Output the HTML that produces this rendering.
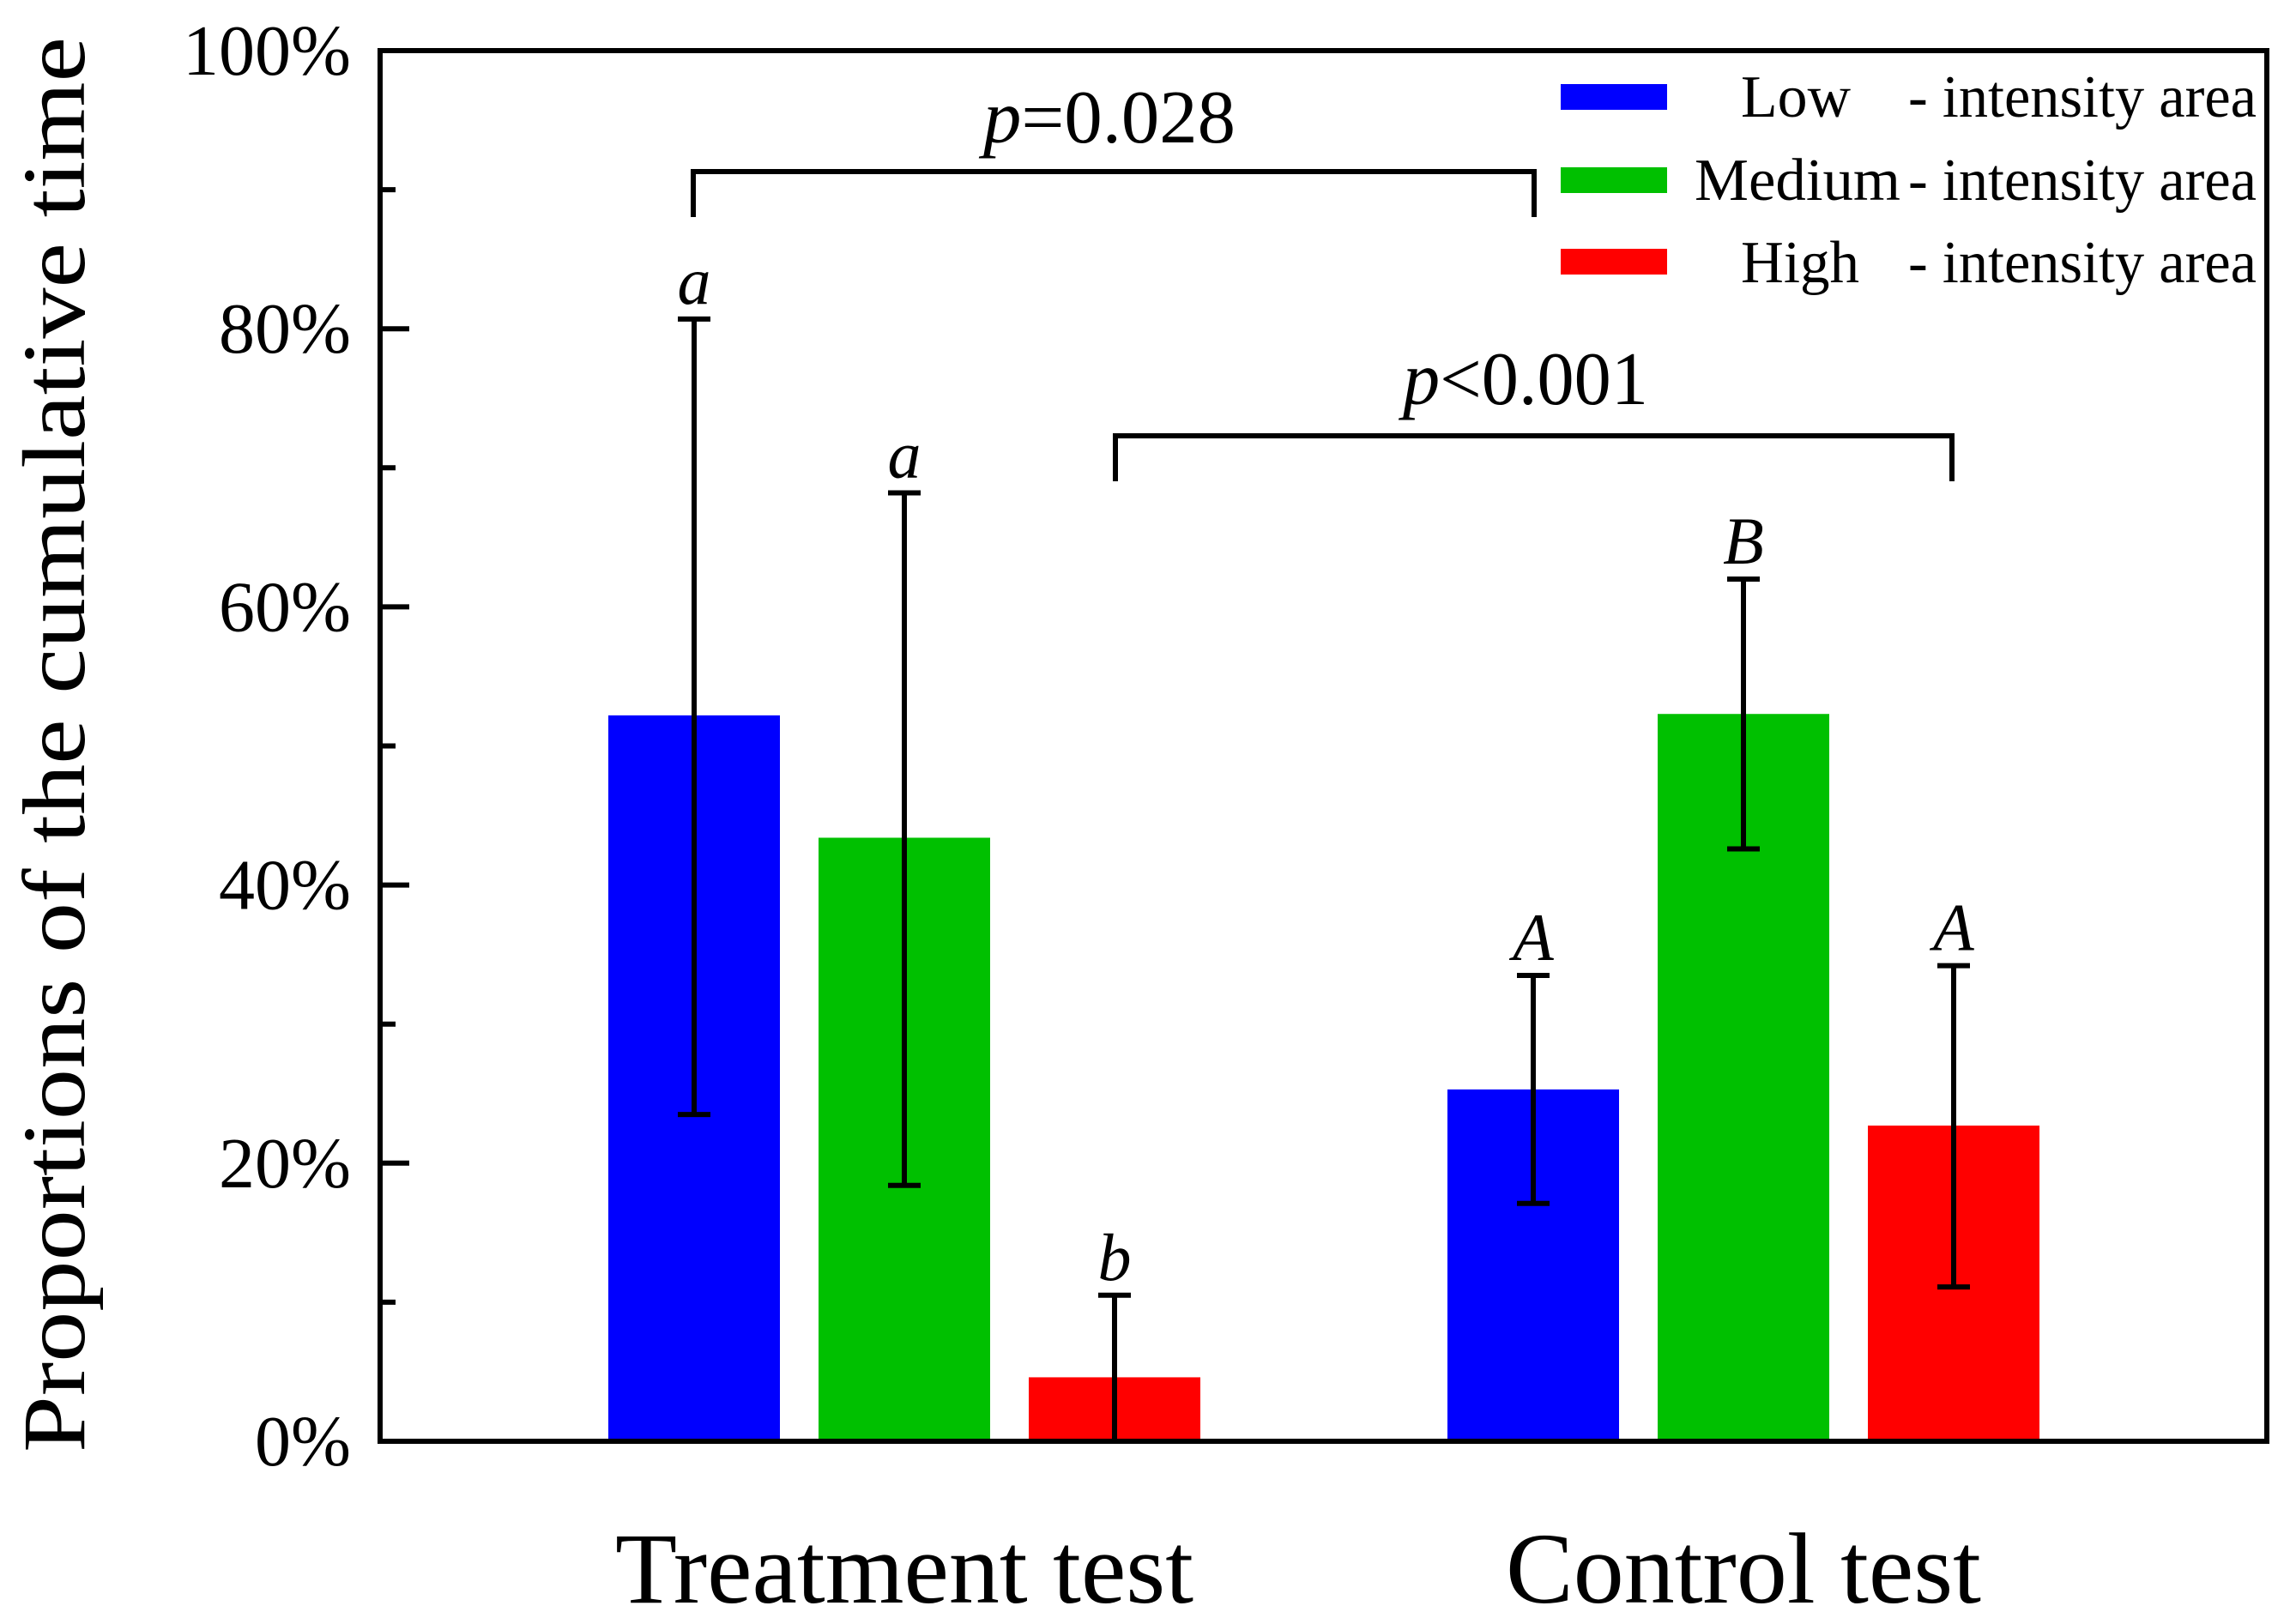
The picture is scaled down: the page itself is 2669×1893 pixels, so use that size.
<!DOCTYPE html>
<html><head><meta charset="utf-8"><style>
html,body{margin:0;padding:0;background:#fff}
svg{display:block}
text{font-family:"Liberation Serif","Times New Roman",serif;fill:#000}
</style></head><body>
<svg id="chart" width="2669" height="1893" viewBox="0 0 2669 1893" xmlns="http://www.w3.org/2000/svg">
<g id="plot"></g>
</svg>
<script>
const groups = ["Treatment test", "Control test"];
const seriesNames = ["Low", "Medium", "High"];
const seriesColors = ["#0000ff", "#00c000", "#ff0000"];
const lowValues = [52.2, 25.3];
const mediumValues = [43.4, 52.3];
const highValues = [4.6, 22.7];
const lowErrLow = [23.5, 17.1];
const lowErrHigh = [80.7, 33.5];
const mediumErrLow = [18.4, 42.6];
const mediumErrHigh = [68.2, 62.0];
const highErrLow = [0, 11.1];
const highErrHigh = [10.5, 34.2];
const sigLetters = [["a","A"],["a","B"],["b","A"]];
const yTicks = [0, 20, 40, 60, 80, 100];
const yMinorTicks = [10, 30, 50, 70, 90];
const yTickLabels = ["0%", "20%", "40%", "60%", "80%", "100%"];

const NS = "http://www.w3.org/2000/svg";
const g = document.getElementById("plot");
const L = 443, R = 2642, T = 59, B = 1680;
function y(v){ return B - (B - T) * v / 100; }
const groupCenter = [1054, 2032];
const barStep = 245, barW = 200;
function barX(gi, si){ return groupCenter[gi] + (si - 1) * barStep; }
function el(tag, attrs){ const e = document.createElementNS(NS, tag); for (const k in attrs) e.setAttribute(k, attrs[k]); g.appendChild(e); return e; }

const vals = [lowValues, mediumValues, highValues];
const eLo = [lowErrLow, mediumErrLow, highErrLow];
const eHi = [lowErrHigh, mediumErrHigh, highErrHigh];

for (let si = 0; si < 3; si++) {
  for (let gi = 0; gi < 2; gi++) {
    const cx = barX(gi, si);
    const r = el("rect", {x: cx - barW/2, y: y(vals[si][gi]), width: barW, height: y(0) - y(vals[si][gi]), fill: seriesColors[si]});
    
    
    const eb = el("path", {d: `M${cx},${y(eLo[si][gi])}V${y(eHi[si][gi])}M${cx-19},${y(eHi[si][gi])}H${cx+19}` + (eLo[si][gi] > 0 ? `M${cx-19},${y(eLo[si][gi])}H${cx+19}` : ""), stroke: "#000", "stroke-width": 6, fill: "none"});
    
    
    const t = el("text", {x: cx, y: y(eHi[si][gi]) - 18, "text-anchor": "middle", "font-size": 78, "font-style": "italic"});
    t.textContent = sigLetters[si][gi];
    
    
  }
}

const box = el("rect", {x: L, y: T, width: R - L, height: B - T, fill: "none", stroke: "#000", "stroke-width": 6});


yTicks.forEach((v, i) => {
  const tk = el("line", {x1: L, x2: L + 34, y1: y(v), y2: y(v), stroke: "#000", "stroke-width": 6});
  
  
  const lb = el("text", {x: 409, y: y(v) + 28, "text-anchor": "end", "font-size": 84});
  lb.textContent = yTickLabels[i];
  
  
});
yMinorTicks.forEach(v => {
  const tk = el("line", {x1: L, x2: L + 18, y1: y(v), y2: y(v), stroke: "#000", "stroke-width": 6});
  
  
});
groups.forEach((name, gi) => {
  const t = el("text", {x: groupCenter[gi], y: 1868, "text-anchor": "middle", "font-size": 118});
  t.textContent = name;
  
  
});
</script>
<svg style="position:absolute;left:0;top:0" width="2669" height="1893" viewBox="0 0 2669 1893">
<text transform="translate(98,868) rotate(-90)" text-anchor="middle" font-size="104" textLength="1650" lengthAdjust="spacingAndGlyphs">Proportions of the cumulative time</text>
<path d="M808,253V200H1788V253" fill="none" stroke="#000" stroke-width="6"/>
<text x="1146" y="166" font-size="88" textLength="294" lengthAdjust="spacingAndGlyphs"><tspan font-style="italic">p</tspan>=0.028</text>
<path d="M1300,561V508H2275V561" fill="none" stroke="#000" stroke-width="6"/>
<text x="1635" y="471" font-size="88" textLength="286" lengthAdjust="spacingAndGlyphs"><tspan font-style="italic">p</tspan>&lt;0.001</text>
<g>
<rect x="1819" y="98" width="124" height="30" fill="#0000ff"/>
<rect x="1819" y="195" width="124" height="30" fill="#00c000"/>
<rect x="1819" y="290" width="124" height="30" fill="#ff0000"/>
<text x="2029" y="136" font-size="70" textLength="128" lengthAdjust="spacingAndGlyphs">Low</text>
<text x="1975" y="233" font-size="70" textLength="240" lengthAdjust="spacingAndGlyphs">Medium</text>
<text x="2029" y="329" font-size="70" textLength="138" lengthAdjust="spacingAndGlyphs">High</text>
<text x="2224" y="136" font-size="70" textLength="406" lengthAdjust="spacingAndGlyphs">- intensity area</text>
<text x="2224" y="233" font-size="70" textLength="406" lengthAdjust="spacingAndGlyphs">- intensity area</text>
<text x="2224" y="329" font-size="70" textLength="406" lengthAdjust="spacingAndGlyphs">- intensity area</text>
</g>
</svg>
</body></html>
